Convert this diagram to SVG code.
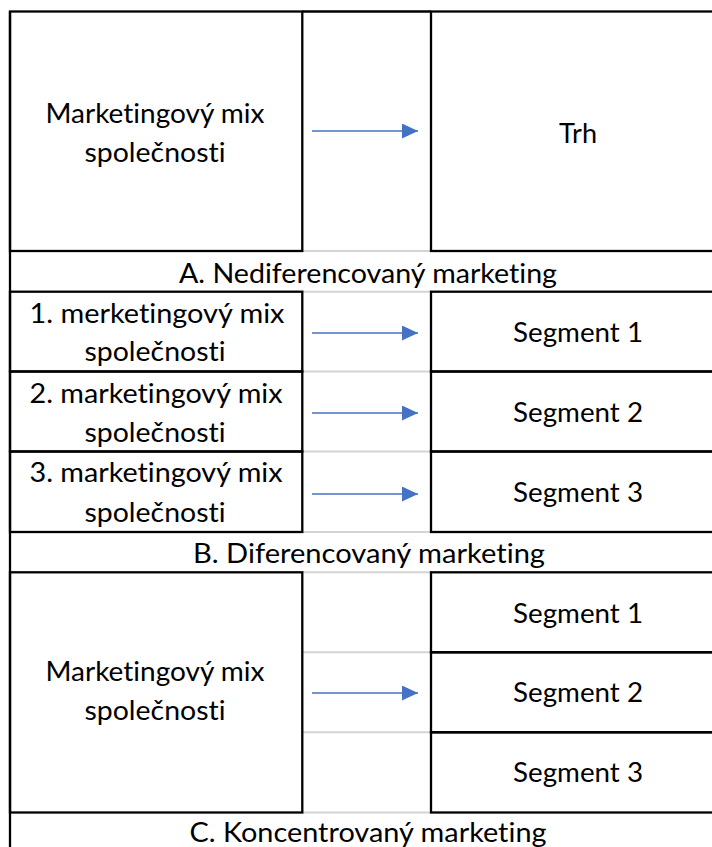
<svg xmlns="http://www.w3.org/2000/svg" width="712" height="847" viewBox="0 0 712 847">
  <defs>
    <style>
      .cell { fill: none; stroke: #000; stroke-width: 2.3; }
      .edge { stroke: #000; stroke-width: 2.3; fill: none; }
      .grid { stroke: #D4D4D4; stroke-width: 2; fill: none; }
      .t { font-family: Lato, "Liberation Sans", sans-serif; font-size: 27px; fill: #000; text-anchor: middle; font-variant-ligatures: none; font-feature-settings: "liga" 0, "clig" 0; }
      .arrow { stroke: #4472C4; stroke-width: 1.5; fill: none; marker-end: url(#head); }
    </style>
    <marker id="head" markerUnits="userSpaceOnUse" markerWidth="16" markerHeight="15" refX="16" refY="7.5" orient="auto" viewBox="0 0 16 15">
      <path d="M0,0 L16,7.5 L0,15 Z" fill="#4472C4"/>
    </marker>
  </defs>
  <rect x="0" y="0" width="712" height="847" fill="#fff"/>

  <g id="gridlines">
    <line class="grid" x1="302.3" y1="251" x2="431" y2="251"/>
    <line class="grid" x1="302.3" y1="291.7" x2="431" y2="291.7"/>
    <line class="grid" x1="302.3" y1="371.5" x2="431" y2="371.5"/>
    <line class="grid" x1="302.3" y1="451.5" x2="431" y2="451.5"/>
    <line class="grid" x1="302.3" y1="532" x2="431" y2="532"/>
    <line class="grid" x1="302.3" y1="572.3" x2="431" y2="572.3"/>
    <line class="grid" x1="302.3" y1="652.3" x2="431" y2="652.3"/>
    <line class="grid" x1="302.3" y1="732.3" x2="431" y2="732.3"/>
    <line class="grid" x1="302.3" y1="812.5" x2="431" y2="812.5"/>
    <line class="edge" x1="302.3" y1="11.5" x2="431" y2="11.5"/>
    <line class="edge" x1="10" y1="11.5" x2="10" y2="860"/>
  </g>

  <g id="a-mix">
    <rect class="cell" x="10" y="11.5" width="292.3" height="239.5"/>
    <text class="t" x="155" y="123" textLength="219" lengthAdjust="spacingAndGlyphs">Marketingový mix</text>
    <text class="t" x="155" y="162" textLength="141" lengthAdjust="spacingAndGlyphs">společnosti</text>
  </g>
  <g id="a-trh">
    <rect class="cell" x="431" y="11.5" width="300" height="239.5"/>
    <text class="t" x="578" y="142.5" textLength="38" lengthAdjust="spacingAndGlyphs">Trh</text>
  </g>
  <g id="a-label">
    <text class="t" x="368" y="283" textLength="378" lengthAdjust="spacingAndGlyphs">A. Nediferencovaný marketing</text>
  </g>

  <g id="b-mix1">
    <rect class="cell" x="10" y="291.7" width="292.3" height="79.8"/>
    <text class="t" x="157" y="322.7" textLength="255" lengthAdjust="spacingAndGlyphs">1. merketingový mix</text>
    <text class="t" x="155" y="361.3" textLength="141" lengthAdjust="spacingAndGlyphs">společnosti</text>
  </g>
  <g id="b-seg1">
    <rect class="cell" x="431" y="291.7" width="300" height="79.8"/>
    <text class="t" x="578" y="341.7" textLength="130" lengthAdjust="spacingAndGlyphs">Segment 1</text>
  </g>
  <g id="b-mix2">
    <rect class="cell" x="10" y="371.5" width="292.3" height="80"/>
    <text class="t" x="156" y="402.7" textLength="253" lengthAdjust="spacingAndGlyphs">2. marketingový mix</text>
    <text class="t" x="155" y="441.7" textLength="141" lengthAdjust="spacingAndGlyphs">společnosti</text>
  </g>
  <g id="b-seg2">
    <rect class="cell" x="431" y="371.5" width="300" height="80"/>
    <text class="t" x="578" y="421.7" textLength="130" lengthAdjust="spacingAndGlyphs">Segment 2</text>
  </g>
  <g id="b-mix3">
    <rect class="cell" x="10" y="451.5" width="292.3" height="80.5"/>
    <text class="t" x="156" y="482.3" textLength="253" lengthAdjust="spacingAndGlyphs">3. marketingový mix</text>
    <text class="t" x="155" y="522.3" textLength="141" lengthAdjust="spacingAndGlyphs">společnosti</text>
  </g>
  <g id="b-seg3">
    <rect class="cell" x="431" y="451.5" width="300" height="80.5"/>
    <text class="t" x="578" y="502.3" textLength="130" lengthAdjust="spacingAndGlyphs">Segment 3</text>
  </g>
  <g id="b-label">
    <text class="t" x="369" y="563.3" textLength="352" lengthAdjust="spacingAndGlyphs">B. Diferencovaný marketing</text>
  </g>

  <g id="c-mix">
    <rect class="cell" x="10" y="572.3" width="292.3" height="240.2"/>
    <text class="t" x="155" y="680.5" textLength="219" lengthAdjust="spacingAndGlyphs">Marketingový mix</text>
    <text class="t" x="155" y="720" textLength="141" lengthAdjust="spacingAndGlyphs">společnosti</text>
  </g>
  <g id="c-seg1">
    <rect class="cell" x="431" y="572.3" width="300" height="80"/>
    <text class="t" x="578" y="622.7" textLength="130" lengthAdjust="spacingAndGlyphs">Segment 1</text>
  </g>
  <g id="c-seg2">
    <rect class="cell" x="431" y="652.3" width="300" height="80"/>
    <text class="t" x="578" y="702" textLength="130" lengthAdjust="spacingAndGlyphs">Segment 2</text>
  </g>
  <g id="c-seg3">
    <rect class="cell" x="431" y="732.3" width="300" height="80.2"/>
    <text class="t" x="578" y="782" textLength="130" lengthAdjust="spacingAndGlyphs">Segment 3</text>
  </g>
  <g id="c-label">
    <text class="t" x="368" y="842" textLength="357" lengthAdjust="spacingAndGlyphs">C. Koncentrovaný marketing</text>
  </g>

  <g id="connectors">
    <line class="arrow" x1="312" y1="131" x2="418" y2="131"/>
    <line class="arrow" x1="312" y1="333" x2="418" y2="333"/>
    <line class="arrow" x1="312" y1="413" x2="418" y2="413"/>
    <line class="arrow" x1="312" y1="494" x2="418" y2="494"/>
    <line class="arrow" x1="312" y1="693" x2="418" y2="693"/>
  </g>
</svg>
